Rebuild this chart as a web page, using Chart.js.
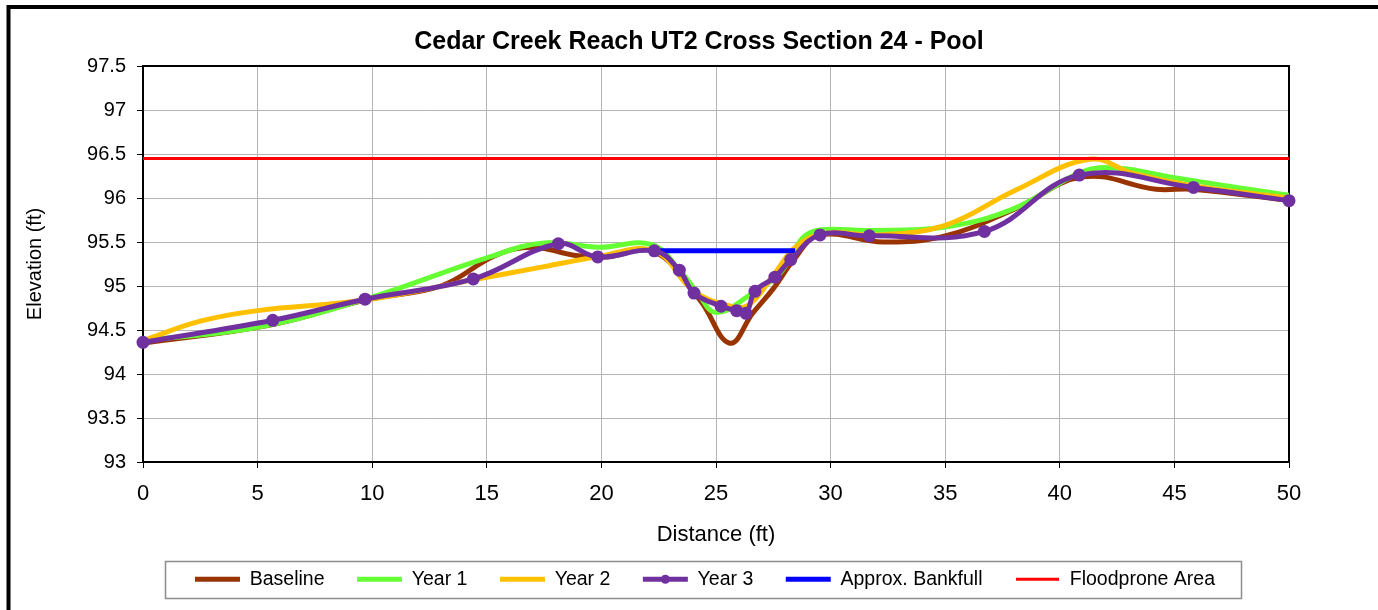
<!DOCTYPE html>
<html>
<head>
<meta charset="utf-8">
<script src="https://cdn.jsdelivr.net/npm/chart.js@4.4.1/dist/chart.umd.min.js"></script>
<style>
  html, body { margin: 0; padding: 0; background: #fff; }
  #wrap { width: 1378px; height: 610px; position: relative; }
</style>
</head>
<body>
<div id="wrap"><canvas id="xs24" width="1378" height="610"></canvas></div>
<script>
// Cross section survey: station (ft) and elevation (ft) for each survey year
const baselineStation = [0, 5.6, 9.7, 13.0, 15.4, 17.0, 18.8, 20.2, 22.3, 24.3, 25.6, 26.6, 27.5, 28.4, 29.5, 32.3, 35.0, 38.0, 41.0, 44.2, 45.8, 50];
const baselineElev    = [94.35, 94.56, 94.84, 95.0, 95.35, 95.44, 95.35, 95.33, 95.39, 94.84, 94.35, 94.69, 94.97, 95.3, 95.58, 95.5, 95.57, 95.87, 96.24, 96.1, 96.1, 95.97];

const year1Station = [0, 5.0, 9.7, 15.0, 17.5, 19.9, 22.2, 23.5, 24.2, 25.0, 26.6, 27.8, 28.8, 29.6, 31.7, 35.0, 38.0, 41.0, 42.5, 45.0, 50];
const year1Elev    = [94.38, 94.53, 94.85, 95.32, 95.49, 95.44, 95.47, 95.15, 94.92, 94.7, 94.92, 95.15, 95.55, 95.64, 95.63, 95.67, 95.88, 96.3, 96.34, 96.23, 96.03];

const year2Station = [0, 2.5, 5.0, 9.7, 14.4, 17.5, 19.8, 22.3, 24.0, 25.5, 26.4, 27.5, 28.5, 29.8, 32.0, 35.0, 38.0, 41.3, 43.2, 45.8, 50];
const year2Elev    = [94.38, 94.6, 94.72, 94.84, 95.07, 95.22, 95.33, 95.40, 94.95, 94.78, 94.78, 95.12, 95.45, 95.6, 95.58, 95.69, 96.08, 96.44, 96.28, 96.14, 96.0];

const year3Station = [0, 5.66, 9.69, 14.41, 18.12, 19.84, 22.31, 23.40, 24.04, 25.22, 25.90, 26.31, 26.70, 27.57, 28.26, 29.54, 31.69, 36.71, 40.85, 45.83, 50];
const year3Elev    = [94.36, 94.61, 94.85, 95.08, 95.48, 95.33, 95.40, 95.18, 94.92, 94.77, 94.72, 94.69, 94.94, 95.10, 95.30, 95.58, 95.57, 95.62, 96.26, 96.12, 95.97];

const bankfullStation = [22.3, 28.45];
const bankfullElev    = [95.40, 95.40];

const floodproneStation = [0, 50];
const floodproneElev    = [96.45, 96.45];

const seriesNames = ['Baseline', 'Year 1', 'Year 2', 'Year 3', 'Approx. Bankfull', 'Floodprone Area'];
const xTickRange = { min: 0, max: 50, step: 5 };
const yTickRange = { min: 93, max: 97.5, step: 0.5 };

const FONT = "'Liberation Sans', Arial, sans-serif";

function pts(xs, ys) { return xs.map((x, i) => ({ x: x, y: ys[i] })); }

const lineDefaults = {
  pointRadius: 0,
  pointHoverRadius: 0,
  tension: 0.4,
  borderCapStyle: 'round',
  borderJoinStyle: 'round',
  fill: false
};

const datasets = [
  Object.assign({}, lineDefaults, { label: seriesNames[0], data: pts(baselineStation, baselineElev), borderColor: '#993300', backgroundColor: '#993300', borderWidth: 5, order: 6 }),
  Object.assign({}, lineDefaults, { label: seriesNames[1], data: pts(year1Station, year1Elev), borderColor: '#66FF33', backgroundColor: '#66FF33', borderWidth: 5, order: 5 }),
  Object.assign({}, lineDefaults, { label: seriesNames[2], data: pts(year2Station, year2Elev), borderColor: '#FFC000', backgroundColor: '#FFC000', borderWidth: 5, order: 4 }),
  Object.assign({}, lineDefaults, { label: seriesNames[3], data: pts(year3Station, year3Elev), borderColor: '#7030A0', backgroundColor: '#7030A0', borderWidth: 5, pointRadius: 6.5, pointBorderWidth: 0, pointBackgroundColor: '#7030A0', clip: false, order: 1 }),
  Object.assign({}, lineDefaults, { label: seriesNames[4], data: pts(bankfullStation, bankfullElev), borderColor: '#0000FF', backgroundColor: '#0000FF', borderWidth: 5, tension: 0, borderCapStyle: 'butt', order: 3 }),
  Object.assign({}, lineDefaults, { label: seriesNames[5], data: pts(floodproneStation, floodproneElev), borderColor: '#FF0000', backgroundColor: '#FF0000', borderWidth: 3, tension: 0, borderCapStyle: 'butt', order: 2 })
];

const LEGEND_PAD = 32.5;
const LEGEND_HEIGHT = 73;

// Frames: outer chart border, plot border, legend box and the Year 3 legend marker
const framePlugin = {
  id: 'frames',
  beforeLayout(chart) {
    const lg = chart.legend;
    if (lg && !lg._fixedFit) {
      const fit = lg.fit.bind(lg);
      lg.fit = function () { fit(); this.height = LEGEND_HEIGHT; };
      lg._fixedFit = true;
    }
  },
  afterLayout(chart) {
    const lg = chart.legend;
    if (lg) { lg.left += 6; lg.right += 6; }
  },
  beforeDatasetsDraw(chart) {
    const { ctx, chartArea: a } = chart;
    ctx.save();
    ctx.strokeStyle = '#000';
    ctx.lineWidth = 2;
    ctx.strokeRect(a.left, a.top, a.right - a.left, a.bottom - a.top);
    ctx.restore();
  },
  afterDraw(chart) {
    const ctx = chart.ctx;
    const lg = chart.legend;
    ctx.save();
    if (lg && lg.legendHitBoxes && lg.legendHitBoxes.length) {
      const hb = lg.legendHitBoxes;
      const first = hb[0], last = hb[hb.length - 1];
      const x0 = first.left - 30, x1 = last.left + last.width + 26;
      const y0 = first.top - 9, y1 = first.top + 28;
      ctx.strokeStyle = '#8c8c8c';
      ctx.lineWidth = 1.5;
      ctx.strokeRect(Math.round(x0) + 0.5, Math.round(y0) + 0.5, Math.round(x1 - x0), Math.round(y1 - y0));
      lg.legendItems.forEach((item, i) => {
        if (item.datasetIndex === 3) {
          const b = hb[i];
          ctx.fillStyle = '#7030A0';
          ctx.beginPath();
          ctx.arc(b.left + 22.5, b.top + 9.75, 4.5, 0, Math.PI * 2);
          ctx.fill();
        }
      });
    }
    ctx.strokeStyle = '#000';
    ctx.lineWidth = 4;
    ctx.strokeRect(8.5, 7, 2000, 2000);
    ctx.restore();
  }
};

const gridColor = '#b4b4b4';

new Chart(document.getElementById('xs24'), {
  type: 'line',
  data: { datasets: datasets },
  plugins: [framePlugin],
  options: {
    responsive: false,
    animation: false,
    devicePixelRatio: 1,
    layout: { padding: { top: 0, left: 20, right: 0, bottom: 0 } },
    plugins: {
      tooltip: { enabled: false },
      title: {
        display: true,
        text: 'Cedar Creek Reach UT2 Cross Section 24 - Pool',
        color: '#000',
        font: { family: FONT, size: 25, weight: 'bold' },
        padding: { top: 27, bottom: 9 }
      },
      legend: {
        position: 'bottom',
        labels: {
          boxWidth: 45,
          boxHeight: 5,
          padding: LEGEND_PAD,
          color: '#000',
          font: { family: FONT, size: 19.5 },
          sort: (a, b) => a.datasetIndex - b.datasetIndex,
          generateLabels(chart) {
            return chart.data.datasets.map((ds, i) => ({
              text: ds.label,
              fillStyle: ds.borderColor,
              strokeStyle: '#ffffff',
              lineWidth: i === 5 ? 2 : 0,
              hidden: false,
              datasetIndex: i
            }));
          }
        }
      }
    },
    scales: {
      x: {
        type: 'linear',
        position: 'bottom',
        min: xTickRange.min,
        max: xTickRange.max,
        ticks: { stepSize: xTickRange.step, color: '#000', font: { family: FONT, size: 22 }, padding: 13, maxRotation: 0 },
        grid: { color: gridColor, lineWidth: 1, tickLength: 6, tickColor: '#000', tickWidth: 1 },
        border: { color: '#000', width: 2 },
        title: { display: true, text: 'Distance (ft)', color: '#000', font: { family: FONT, size: 22 }, padding: { top: 0, bottom: -11 } },
        afterFit(s) { s.height = 610 - LEGEND_HEIGHT - 462; }
      },
      y: {
        type: 'linear',
        position: 'left',
        min: yTickRange.min,
        max: yTickRange.max,
        ticks: {
          stepSize: yTickRange.step,
          color: '#000',
          font: { family: FONT, size: 20 },
          padding: 11,
          callback: (v) => String(Math.round(v * 10) / 10)
        },
        grid: { color: gridColor, lineWidth: 1, tickLength: 6, tickColor: '#000', tickWidth: 1 },
        border: { color: '#000', width: 2 },
        title: { display: true, text: 'Elevation (ft)', color: '#000', font: { family: FONT, size: 20 }, padding: { top: 3, bottom: 0 } },
        afterFit(s) { s.width = 123; }
      },
      yRight: {
        type: 'linear',
        axis: 'y',
        position: 'right',
        display: true,
        min: yTickRange.min,
        max: yTickRange.max,
        grid: { display: false, drawTicks: false },
        ticks: { display: false },
        border: { display: false },
        afterFit(s) { s.width = 89; }
      }
    }
  }
});
</script>
</body>
</html>
